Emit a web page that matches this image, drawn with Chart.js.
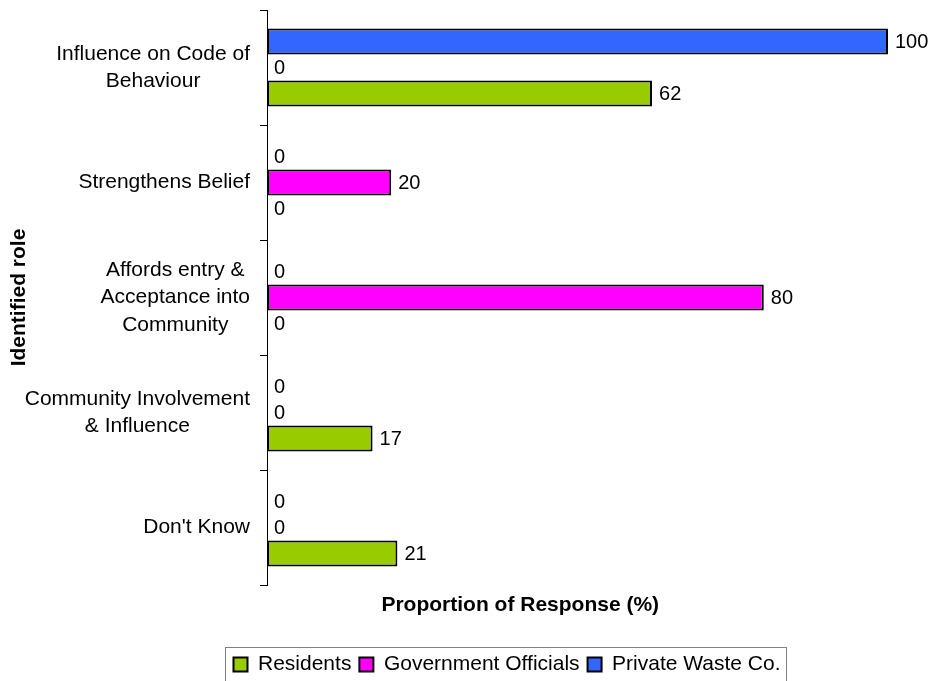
<!DOCTYPE html>
<html>
<head>
<meta charset="utf-8">
<title>Identified role</title>
<script src="https://cdn.jsdelivr.net/npm/chart.js@4/dist/chart.umd.min.js"></script>
<style>
  html, body { margin: 0; padding: 0; background: #ffffff; }
  #wrap { width: 934px; height: 681px; }
</style>
</head>
<body>
<div id="wrap"><canvas id="c" width="934" height="681"></canvas></div>
<script>
// Category labels (one entry per line of each wrapped label)
const categories = [
  ['Influence on Code of', 'Behaviour'],
  ['Strengthens Belief'],
  ['Affords entry &', 'Acceptance into', 'Community'],
  ['Community Involvement', '& Influence'],
  ["Don't Know"]
];

// Series values, % of responses per category
const privateWaste = [100, 0, 0, 0, 0];
const government   = [0, 20, 80, 0, 0];
const residents    = [62, 0, 0, 17, 21];

const seriesNames = ['Private Waste Co.', 'Government Officials', 'Residents'];
const seriesColors = ['#3366FF', '#FF00FF', '#99CC00'];

const xTitle = 'Proportion of Response (%)';
const yTitle = 'Identified role';

const FONT = "'Liberation Sans', Arial, Helvetica, sans-serif";
Chart.defaults.font.family = FONT;
Chart.defaults.color = '#000';

// Wrapped category names, each block right-aligned to the axis with its lines centred
const categoryLabels = {
  id: 'categoryLabels',
  afterDraw(chart) {
    const y = chart.scales.y;
    const ctx = chart.ctx;
    const right = y.right - 17;
    const lineH = 27.5;
    ctx.save();
    ctx.font = '21px ' + FONT;
    ctx.fillStyle = '#000';
    ctx.textAlign = 'center';
    ctx.textBaseline = 'middle';
    categories.forEach((lines, i) => {
      const cy = y.getPixelForTick(i);
      const w = Math.max(...lines.map(l => ctx.measureText(l).width));
      const cx = right - w / 2;
      lines.forEach((line, k) => {
        ctx.fillText(line, cx, cy + (k - (lines.length - 1) / 2) * lineH);
      });
    });
    ctx.restore();
  }
};

// Value printed just past the end of every bar
const valueLabels = {
  id: 'valueLabels',
  afterDatasetsDraw(chart) {
    const ctx = chart.ctx;
    ctx.save();
    ctx.font = '20px ' + FONT;
    ctx.fillStyle = '#000';
    ctx.textAlign = 'left';
    ctx.textBaseline = 'middle';
    chart.data.datasets.forEach((ds, di) => {
      chart.getDatasetMeta(di).data.forEach((bar, i) => {
        ctx.fillText(String(ds.data[i]), bar.x + 7, bar.y + 1);
      });
    });
    ctx.restore();
  }
};

// Axis title under the plot and a frame around the legend
const decorations = {
  id: 'decorations',
  afterLayout(chart) {
    const lg = chart.legend;
    lg.left += 63; lg.right += 63;
    lg.top += 4; lg.bottom += 4;
  },
  afterDraw(chart) {
    const ctx = chart.ctx;
    const area = chart.chartArea;
    ctx.save();
    ctx.font = 'bold 21px ' + FONT;
    ctx.fillStyle = '#000';
    ctx.textAlign = 'center';
    ctx.textBaseline = 'middle';
    ctx.fillText(xTitle, chart.width * 0.557, area.bottom + 20);

    const boxes = chart.legend.legendHitBoxes;
    if (boxes && boxes.length) {
      const left = Math.min(...boxes.map(b => b.left)) - 8;
      const right = Math.max(...boxes.map(b => b.left + b.width)) + 6;
      const top = boxes[0].top - 7;
      ctx.strokeStyle = '#808080';
      ctx.lineWidth = 1;
      ctx.strokeRect(Math.round(left) + 0.5, Math.round(top) + 0.5, Math.round(right - left), chart.height - top + 5);
    }
    ctx.restore();
  }
};

const seriesData = [privateWaste, government, residents];

new Chart(document.getElementById('c'), {
  type: 'bar',
  data: {
    labels: categories.map(lines => lines.join(' ')),
    datasets: seriesNames.map((name, i) => ({
      label: name,
      data: seriesData[i],
      backgroundColor: seriesColors[i],
      borderColor: '#000',
      borderWidth: 2,
      borderSkipped: false,
      barPercentage: 1,
      categoryPercentage: 0.68
    }))
  },
  options: {
    indexAxis: 'y',
    responsive: false,
    animation: false,
    layout: { padding: { top: 10, right: 46, left: 0, bottom: 0 } },
    scales: {
      x: {
        min: 0,
        max: 100,
        ticks: { display: false },
        grid: { display: false },
        border: { display: false },
        afterFit(scale) { scale.height = 57; }
      },
      y: {
        ticks: { display: false },
        grid: { drawOnChartArea: false, tickLength: 7, color: '#000', lineWidth: 1 },
        border: { color: '#000', width: 1 },
        title: {
          display: true,
          text: yTitle,
          color: '#000',
          font: { size: 21, weight: 'bold' },
          padding: { top: 7, bottom: 0 }
        },
        afterFit(scale) { scale.width = 267; }
      }
    },
    plugins: {
      legend: {
        position: 'bottom',
        reverse: true,
        labels: {
          boxWidth: 14,
          boxHeight: 14,
          padding: 8,
          color: '#000',
          font: { size: 21 }
        }
      },
      tooltip: { enabled: false }
    }
  },
  plugins: [categoryLabels, valueLabels, decorations]
});
</script>
</body>
</html>
